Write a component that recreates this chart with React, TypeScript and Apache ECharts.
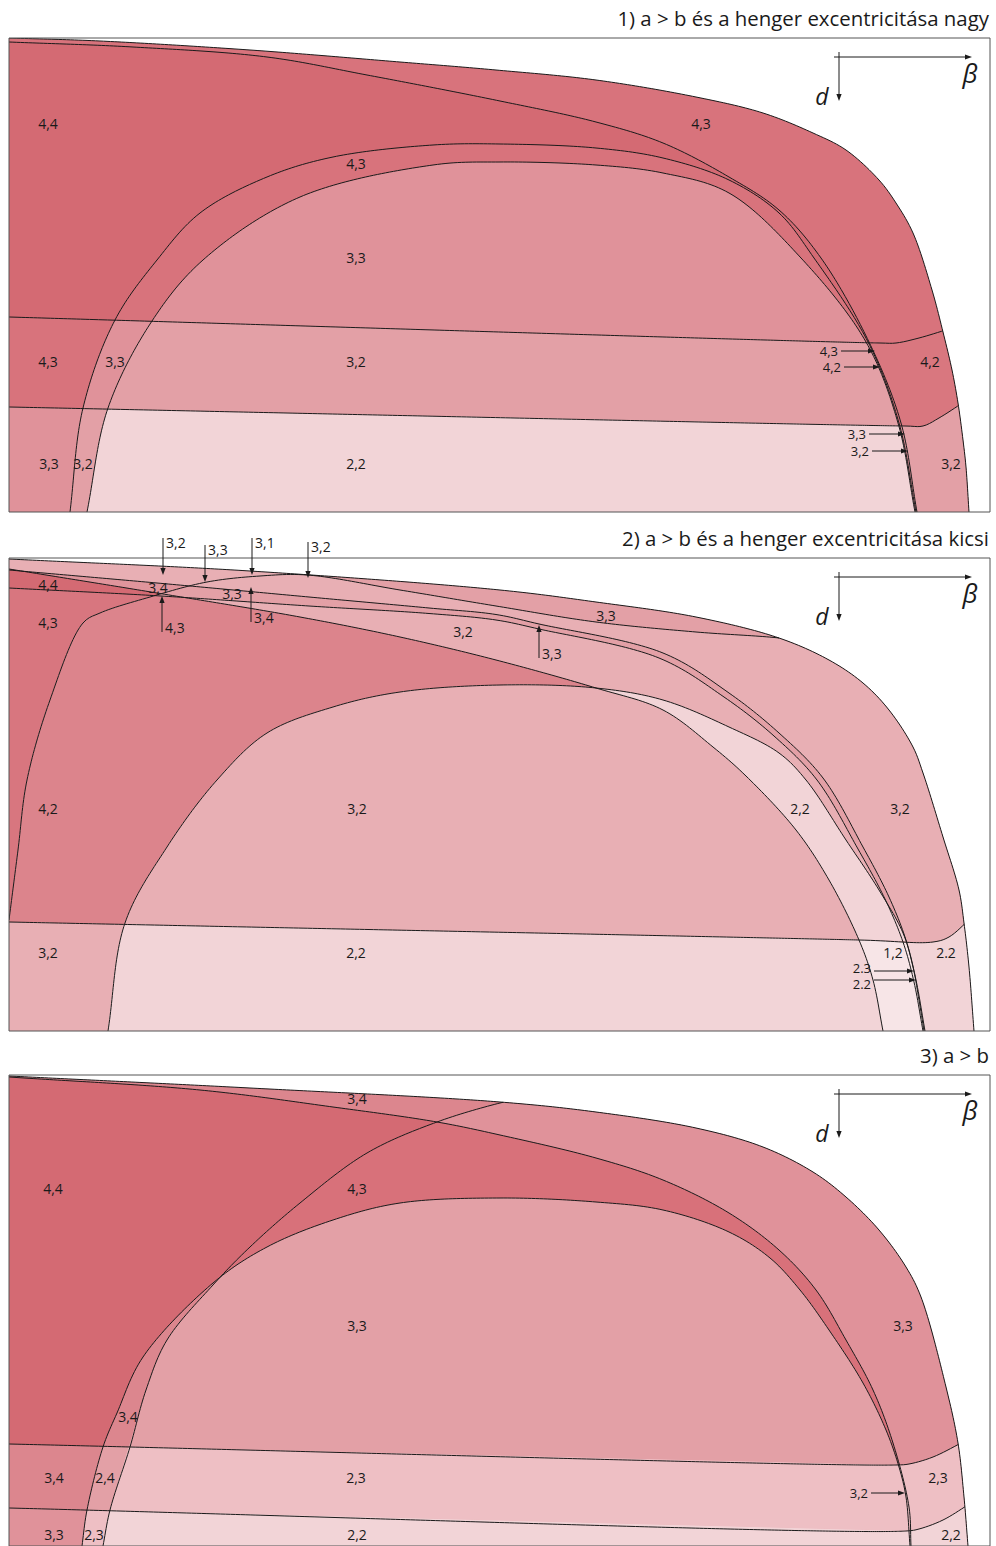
import React, { useEffect, useRef } from "react";
import * as echarts from "echarts";

type Pt = [number, number];

// ================= Panel 1 (local units: β → right 0..981, d → down 0..474)
const p1Title = "1) a > b és a henger excentricitása nagy";
const p1Outer: Pt[] = [[0,0],[91,3],[241,12],[391,24],[487,32],[587,42],[687,59],[754,75],[804,95],[837,112],[870,142],[887,165],[904,195],[923,252],[934,294],[943,332],[949,365],[954,402],[957,429],[960,474]];
const p1Upper: Pt[] = [[0,4],[124,9],[258,19],[358,37],[491,63],[587,84],[654,105],[720,139],[770,172],[812,220],[860,304],[892,385],[908,474]];
const p1EllOuter: Pt[] = [[61,474],[74,370],[106,282],[148,222],[191,175],[258,139],[324,119],[424,107],[491,106],[587,110],[654,120],[720,142],[770,175],[805,220],[859,304],[890,385],[907,474]];
const p1EllInner: Pt[] = [[78,474],[99,370],[143,283],[194,222],[291,159],[424,127],[491,124],[587,127],[654,135],[720,155],[792,220],[857,304],[889,385],[906,474]];
const p1Line1: Pt[] = [[0,279],[871,305],[887,305],[910,300],[940,291]];
const p1Line2: Pt[] = [[0,369],[896,388],[914,388],[930,380],[955,364]];
const p1Labels: [string, number, number][] = [["4,4",39,85],["4,3",692,85],["4,3",347,125],["3,3",347,219],["4,3",39,323],["3,3",106,323],["3,2",347,323],["4,2",921,323],["3,3",40,425],["3,2",74,425],["2,2",347,425],["3,2",942,425]];
const p1Pointers: [string, number, number, number, number, number][] = [["4,3",832,313,866,313,0],["4,2",835,329,871,329,0],["3,3",860,396,896,396,0],["3,2",863,413,899,413,0]];

// ================= Panel 2
const p2Title = "2) a > b és a henger excentricitása kicsi";
const p2Outer: Pt[] = [[0,1],[241,13],[491,32],[587,44],[687,59],[770,80],[820,102],[854,125],[880,152],[904,189],[914,215],[934,279],[950,332],[955,365],[960,409],[965,473]];
const p2Steep: Pt[] = [[0,362],[9,292],[18,222],[41,142],[74,65],[91,55],[141,39],[198,24],[251,18],[298,17],[391,32],[487,48],[587,64],[687,74],[770,80],[795,84]];
const p2Upper: Pt[] = [[0,12],[148,25],[300,39],[420,50],[487,56.5],[530,66],[654,95],[720,135],[770,175],[814,220],[854,289],[880,339],[897,382],[907,422],[916,473]];
const p2Middle: Pt[] = [[0,30],[152,38],[300,48],[420,55.5],[487,62],[530,71],[650,100],[715,139],[765,178],[808,222],[849,291],[876,341],[894,384],[905,424],[914,473]];
const p2Lower: Pt[] = [[0,11],[148,35],[291,59],[391,79],[487,102],[587,130],[654,152],[704,189],[737,218],[787,272],[820,322],[850,382],[864,422],[874,473]];
const p2Ell: Pt[] = [[99,473],[116,365],[158,289],[208,222],[258,175],[324,149],[391,134],[491,127],[587,130],[654,142],[720,169],[770,195],[797,222],[837,282],[870,332],[894,375],[904,409],[910,442],[915,473]];
const p2Line1: Pt[] = [[0,364],[850,382],[924,384],[940,379],[962,360]];
const p2Labels: [string, number, number][] = [["4,4",39,26],["3,4",149,29],["3,3",223,35],["3,3",597,57],["4,3",39,64],["3,2",454,73],["4,2",39,250],["3,2",348,250],["2,2",791,250],["3,2",891,250],["3,2",39,394],["2,2",347,394],["1,2",884,394],["2.2",937,394]];
const p2Pointers: [string, number, number, number, number, number][] = [["3,2",154,-20,154,17,0],["3,3",196,-13,196,24,0],["3,1",243,-20,243,17,0],["3,2",299,-16,299,20,0],["4,3",153,74,153,38,0],["3,4",242,64,242,29,0],["3,3",530,100,530,67,0],["2.3",865,413,905,413,-3],["2.2",865,422,907,422,4]];
const p2SplitX = 300; // F grazes the outer boundary here

// ================= Panel 3
const p3Title = "3) a > b";
const p3Outer: Pt[] = [[0,1],[241,13],[491,27],[587,37],[687,53],[754,72],[804,97],[837,122],[870,155],[897,192],[912,222],[937,312],[949,368],[955,422],[959,471]];
const p3Upper: Pt[] = [[0,2],[191,15],[324,32],[428,47],[491,60],[587,83],[654,105],[720,138],[770,175],[807,215],[837,265],[864,315],[884,368],[900,432],[902,471]];
const p3Arc: Pt[] = [[511,24],[491,28],[428,47],[358,78],[291,128],[241,172],[204,210],[158,265],[137,315],[121,372],[101,435],[94,471]];
const p3Ell: Pt[] = [[901,471],[897,422],[890,392],[877,355],[854,308],[820,255],[791,215],[761,183],[720,157],[654,135],[587,127],[491,123],[391,128],[324,145],[258,172],[204,208],[134,282],[108,338],[94,372],[78,435],[73,471]];
const p3Line1: Pt[] = [[0,369],[887,390],[900,389],[924,382],[956,366]];
const p3Line2: Pt[] = [[0,433],[897,456],[910,454],[934,445],[962,428]];
const p3Labels: [string, number, number][] = [["3,4",348,23],["4,4",44,113],["4,3",348,113],["3,3",348,250],["3,3",894,250],["3,4",119,341],["3,4",45,402],["2,4",96,402],["2,3",347,402],["2,3",929,402],["3,3",45,459],["2,3",85,459],["2,2",348,459],["2,2",942,459]];
const p3Pointers: [string, number, number, number, number, number][] = [["3,2",862,418,896,418,0]];

// axis glyph (β →, d ↓) in local units
const glyphH: Pt[] = [[825,19],[963,19]];
const glyphV: Pt[] = [[830,14],[830,63]];
const glyphBeta: Pt = [961,35];
const glyphD: Pt = [813,58];

// ================= palettes (styles)
const pal1: Record<string,string> = { "4,4":"#D46A73","4,3":"#D8737C","4,2":"#D9777F","3,3":"#E0929A","3,2":"#E3A0A6","2,2":"#F2D4D7" };
const pal2: Record<string,string> = { "4,4":"#D46A73","4,3":"#D8767F","4,2":"#DC848C","3,4":"#E0959C","3,3":"#E3A0A6","3,2":"#E8AFB4","2,2":"#F2D4D7","1,2":"#F7E5E7" };
const pal3: Record<string,string> = { "4,4":"#D46A73","4,3":"#D8717A","3,4":"#DC868E","3,3o":"#E0929A","3,3":"#E3A0A6","2,4":"#E3A0A6","2,3":"#EEBFC4","2,2":"#F2D4D7" };

const FONT = '"Open Sans", "DejaVu Sans", sans-serif';
const INK = "#1a1a1a";
const LABEL_FONT = `14px ${FONT}`;

// ================= geometry helpers
const dist = (a: Pt, b: Pt) => Math.hypot(b[0] - a[0], b[1] - a[1]);

function smooth(pts: Pt[]): Pt[] {
  const m = pts.length;
  if (m < 3) return pts.slice();
  const e: Pt[] = [[2*pts[0][0]-pts[1][0], 2*pts[0][1]-pts[1][1]], ...pts, [2*pts[m-1][0]-pts[m-2][0], 2*pts[m-1][1]-pts[m-2][1]]];
  const out: Pt[] = [];
  const k = (a: Pt, b: Pt) => Math.max(Math.sqrt(dist(a, b)), 1e-3);
  for (let i = 1; i < e.length - 2; i++) {
    const p0 = e[i-1], p1 = e[i], p2 = e[i+1], p3 = e[i+2];
    const t0 = 0, t1 = k(p0, p1), t2 = t1 + k(p1, p2), t3 = t2 + k(p2, p3);
    const n = Math.max(3, Math.ceil(dist(p1, p2) / 4));
    for (let s = 0; s < n; s++) {
      const t = t1 + (t2 - t1) * s / n;
      const L = (a: Pt, b: Pt, ta: number, tb: number): Pt => { const w = (t - ta) / (tb - ta); return [a[0] + (b[0]-a[0])*w, a[1] + (b[1]-a[1])*w]; };
      const A1 = L(p0,p1,t0,t1), A2 = L(p1,p2,t1,t2), A3 = L(p2,p3,t2,t3);
      const B1 = L(A1,A2,t0,t2), B2 = L(A2,A3,t1,t3);
      out.push(L(B1,B2,t1,t2));
    }
  }
  out.push(pts[m-1]);
  return out;
}

function segX(a: Pt, b: Pt, c: Pt, d: Pt): number | null {
  const rx = b[0]-a[0], ry = b[1]-a[1], sx = d[0]-c[0], sy = d[1]-c[1];
  const den = rx*sy - ry*sx;
  if (Math.abs(den) < 1e-12) return null;
  const qx = c[0]-a[0], qy = c[1]-a[1];
  const t = (qx*sy - qy*sx) / den, u = (qx*ry - qy*rx) / den;
  return t >= 0 && t <= 1 && u >= 0 && u <= 1 ? t : null;
}
function hitParam(a: Pt[], b: Pt[]): number | null {
  for (let i = 0; i < a.length - 1; i++) {
    let best = Infinity;
    for (let j = 0; j < b.length - 1; j++) {
      const r = segX(a[i], a[i+1], b[j], b[j+1]);
      if (r !== null && r < best) best = r;
    }
    if (best < Infinity) return i + best;
  }
  return null;
}
function at(a: Pt[], h: number): Pt {
  const i = Math.min(Math.max(Math.floor(h), 0), a.length - 2);
  const t = h - i;
  return [a[i][0] + (a[i+1][0]-a[i][0])*t, a[i][1] + (a[i+1][1]-a[i][1])*t];
}
function slice(a: Pt[], s: number, e: number): Pt[] {
  const out: Pt[] = [at(a, s)];
  if (s <= e) { for (let k = Math.floor(s) + 1; k < e; k++) out.push(a[k]); }
  else { for (let k = Math.ceil(s) - 1; k > e; k--) out.push(a[k]); }
  out.push(at(a, e));
  return out;
}
const under = (c: Pt[], h: number): Pt[] => [...c, [0, h]];
function band(l: Pt[], outer: Pt[], h: number): Pt[] {
  const hl = hitParam(l, outer) ?? l.length - 1;
  const ho = hitParam(outer, l) ?? outer.length - 1;
  return [...slice(l, 0, hl), ...slice(outer, ho, outer.length - 1), [0, h]];
}
function half(l: Pt[], below: boolean): Pt[] {
  const a = l[0], b = l[1];
  const m = (b[1]-a[1]) / (b[0]-a[0]);
  const y = (x: number) => a[1] + m*(x - a[0]);
  const far = below ? 5000 : -5000;
  return [[-2000, y(-2000)], [3000, y(3000)], [3000, far], [-2000, far]];
}
const rightOfX = (x: number): Pt[] => [[x, -5000], [5000, -5000], [5000, 5000], [x, 5000]];
function rightOf(c: Pt[]): Pt[] {
  const f = c[0], e = c[c.length-1];
  return [...c, [e[0], 5000], [5000, 5000], [5000, f[1]]];
}
const upTo = (l: Pt[], o: Pt[]) => slice(l, 0, hitParam(l, o) ?? l.length - 1);
const fromHit = (l: Pt[], o: Pt[]) => slice(l, hitParam(l, o) ?? 0, l.length - 1);

// convex hull (monotone chain) so that clipping regions are strictly convex
function hull(points: Pt[]): Pt[] {
  const p = points.slice().sort((a, b) => a[0] - b[0] || a[1] - b[1]);
  if (p.length < 3) return p;
  const cr = (o: Pt, a: Pt, b: Pt) => (a[0]-o[0])*(b[1]-o[1]) - (a[1]-o[1])*(b[0]-o[0]);
  const lo: Pt[] = [];
  for (const q of p) { while (lo.length >= 2 && cr(lo[lo.length-2], lo[lo.length-1], q) <= 0) lo.pop(); lo.push(q); }
  const up: Pt[] = [];
  for (let i = p.length - 1; i >= 0; i--) { const q = p[i]; while (up.length >= 2 && cr(up[up.length-2], up[up.length-1], q) <= 0) up.pop(); up.push(q); }
  lo.pop(); up.pop();
  return lo.concat(up);
}

function area(p: Pt[]) { let s = 0; for (let i = 0; i < p.length; i++) { const j = (i+1) % p.length; s += p[i][0]*p[j][1] - p[j][0]*p[i][1]; } return s / 2; }
function clip(subject: Pt[], clipPoly: Pt[]): Pt[] {
  const cl = hull(clipPoly);
  const sg = area(cl) > 0 ? 1 : -1;
  let out = subject;
  for (let i = 0; i < cl.length; i++) {
    const a = cl[i], b = cl[(i+1) % cl.length];
    if (dist(a, b) < 1e-6) continue;
    const inp = out; out = [];
    if (!inp.length) break;
    const side = (p: Pt) => sg*((b[0]-a[0])*(p[1]-a[1]) - (b[1]-a[1])*(p[0]-a[0]));
    for (let j = 0; j < inp.length; j++) {
      const cur = inp[j], prev = inp[(j + inp.length - 1) % inp.length];
      const sc = side(cur), sp = side(prev);
      const cx = (): Pt => { const w = sp / (sp - sc); return [prev[0] + (cur[0]-prev[0])*w, prev[1] + (cur[1]-prev[1])*w]; };
      if (sc >= 0) { if (sp < 0) out.push(cx()); out.push(cur); }
      else if (sp >= 0) out.push(cx());
    }
  }
  return out;
}

type Geom = { fills: [string, Pt[]][]; strokes: Pt[][] };
function compose(sets: Record<string, Pt[]>, layers: [string, string[]][], strokes: Pt[][]): Geom {
  const fills: [string, Pt[]][] = layers.map(([key, names]) => [key, names.slice(1).reduce((acc, n) => clip(acc, sets[n]), sets[names[0]])]);
  return { fills, strokes };
}

function geom1(h: number): Geom {
  const A = smooth(p1Outer), B = smooth(p1Upper), C = smooth(p1EllOuter), D = smooth(p1EllInner);
  const L1 = smooth(p1Line1), L2 = smooth(p1Line2);
  const sets = { inA: under(A, h), inB: under(B, h), inC: C, inD: D, band1: band(L1, A, h), band2: band(L2, A, h),
    ab1: half(p1Line1, false), be1: half(p1Line1, true), ab2: half(p1Line2, false), be2: half(p1Line2, true) };
  const layers: [string, string[]][] = [
    ["4,3", ["inA"]], ["4,2", ["band1"]], ["3,2", ["band2"]],
    ["4,4", ["inB","ab1"]], ["4,3", ["inB","be1","ab2"]], ["3,3", ["inB","be2"]],
    ["4,3", ["inC","ab1"]], ["3,3", ["inC","be1","ab2"]], ["3,2", ["inC","be2"]],
    ["3,3", ["inD","ab1"]], ["3,2", ["inD","be1","ab2"]], ["2,2", ["inD","be2"]],
  ];
  return compose(sets, layers, [A, B, C, D, upTo(L1, A), upTo(L2, A)]);
}

function geom2(h: number): Geom {
  const A = smooth(p2Outer), F = smooth(p2Steep), J = smooth(p2Upper), K = smooth(p2Middle), H = smooth(p2Lower), E = smooth(p2Ell);
  const L1 = smooth(p2Line1);
  let hF = F.length - 1, hA = A.length - 1;
  for (let i = F.length - 2; i >= 0; i--) {
    let found = -1, fa = -1;
    for (let j = 0; j < A.length - 1; j++) { const r = segX(F[i], F[i+1], A[j], A[j+1]); if (r !== null) { found = i + r; const r2 = segX(A[j], A[j+1], F[i], F[i+1]); fa = j + (r2 ?? 0); break; } }
    if (found >= 0 && F[i][0] > p2SplitX + 100) { hF = found; hA = fa; break; }
  }
  const inF: Pt[] = [...slice(F, 0, hF), ...slice(A, hA, A.length - 1), [0, h]];
  const sets = { inA: under(A, h), inF, inJ: under(J, h), inK: under(K, h), inH: under(H, h), inE: E, band1: band(L1, A, h),
    ab1: half(p2Line1, false), be1: half(p2Line1, true), xR: rightOfX(p2SplitX) };
  const layers: [string, string[]][] = [
    ["3,2", ["inA"]], ["3,3", ["inA","ab1","xR"]],
    ["3,4", ["inJ","ab1"]],
    ["4,4", ["inH","ab1"]], ["4,3", ["inK","ab1"]],
    ["3,2", ["inF","ab1"]], ["3,3", ["inF","inJ","ab1"]], ["3,2", ["inF","inK","ab1"]],
    ["4,2", ["inF","inK","inH","ab1"]],
    ["2,2", ["inE","ab1"]], ["3,2", ["inE","inH","ab1"]],
    ["2,2", ["band1"]], ["3,2", ["band1","inH"]], ["1,2", ["band1","inE"]], ["2,2", ["band1","inE","inH"]],
  ];
  return compose(sets, layers, [A, slice(F, 0, hF), J, K, H, E, upTo(L1, A)]);
}

function geom3(h: number): Geom {
  const A = smooth(p3Outer), B = smooth(p3Upper), P = smooth(p3Arc), Q = smooth(p3Ell);
  const L1 = smooth(p3Line1), L2 = smooth(p3Line2);
  const sets = { inA: under(A, h), inB: under(B, h), inP: rightOf(P), inQ: Q, band1: band(L1, A, h), band2: band(L2, A, h),
    ab1: half(p3Line1, false), be1: half(p3Line1, true), ab2: half(p3Line2, false), be2: half(p3Line2, true) };
  const layers: [string, string[]][] = [
    ["3,4", ["inA"]], ["4,4", ["inB","ab1"]],
    ["3,3o", ["inA","inP"]], ["4,3", ["inB","inP","ab1"]],
    ["3,4", ["band1"]], ["3,3o", ["band2"]],
    ["2,3", ["band1","inP"]], ["2,2", ["band2","inP"]],
    ["3,4", ["inQ","ab1"]], ["3,3", ["inQ","inP","ab1"]],
    ["2,4", ["inQ","be1","ab2"]], ["2,3", ["inQ","inP","be1","ab2"]],
    ["2,3", ["inQ","be2"]], ["2,2", ["inQ","inP","be2"]],
  ];
  return compose(sets, layers, [A, B, fromHit(P, A), Q, upTo(L1, A), upTo(L2, A)]);
}

const PANELS = [
  { top: 38, h: 474, title: p1Title, geom: geom1, pal: pal1, labels: p1Labels, pointers: p1Pointers },
  { top: 558, h: 473, title: p2Title, geom: geom2, pal: pal2, labels: p2Labels, pointers: p2Pointers },
  { top: 1075, h: 471, title: p3Title, geom: geom3, pal: pal3, labels: p3Labels, pointers: p3Pointers },
];

function arrowEls(a: number[], b: number[]): any[] {
  const dx = b[0] - a[0], dy = b[1] - a[1];
  const len = Math.hypot(dx, dy) || 1;
  const ux = dx / len, uy = dy / len;
  const bx = b[0] - ux * 7, by = b[1] - uy * 7;
  const px = -uy * 2.6, py = ux * 2.6;
  return [
    { type: "line", shape: { x1: a[0], y1: a[1], x2: bx, y2: by }, style: { stroke: INK, lineWidth: 1 } },
    { type: "polygon", shape: { points: [[b[0], b[1]], [bx + px, by + py], [bx - px, by - py]] }, style: { fill: INK } },
  ];
}

function buildOption() {
  const series: any[] = [];
  PANELS.forEach((p, i) => {
    const g = p.geom(p.h);
    series.push({
      type: "custom", xAxisIndex: i, yAxisIndex: i, clip: true, silent: true, data: [[0, 0]],
      renderItem: (_params: any, api: any) => {
        const c = (q: Pt) => api.coord(q);
        const children: any[] = [];
        for (const [key, poly] of g.fills) {
          if (poly.length < 3) continue;
          children.push({ type: "polygon", shape: { points: poly.map(c) }, style: { fill: p.pal[key] } });
        }
        for (const s of g.strokes) children.push({ type: "polyline", shape: { points: s.map(c) }, style: { stroke: INK, lineWidth: 1, fill: "none" } });
        return { type: "group", children };
      },
    });
    series.push({
      type: "custom", xAxisIndex: i, yAxisIndex: i, clip: false, silent: true, data: [[0, 0]],
      renderItem: (_params: any, api: any) => {
        const c = (q: Pt) => api.coord(q);
        const children: any[] = [];
        const tl = c([0, 0]), br = c([981, p.h]);
        children.push({ type: "rect", shape: { x: tl[0], y: tl[1], width: br[0] - tl[0], height: br[1] - tl[1] }, style: { fill: "none", stroke: "#555", lineWidth: 1 } });
        for (const [t, x, y] of p.labels) {
          const q = c([x, y]);
          children.push({ type: "text", x: q[0], y: q[1], style: { text: t, fill: INK, font: LABEL_FONT, align: "center", verticalAlign: "middle" } });
        }
        for (const [t, x1, y1, x2, y2, dy] of p.pointers) {
          const a = c([x1, y1]), b = c([x2, y2]);
          children.push(...arrowEls(a, b));
          if (x2 > x1) children.push({ type: "text", x: a[0] - 3, y: a[1] + dy, style: { text: t, fill: INK, font: `13px ${FONT}`, align: "right", verticalAlign: "middle" } });
          else if (y2 > y1) children.push({ type: "text", x: a[0] + 3, y: a[1] + 4, style: { text: t, fill: INK, font: LABEL_FONT, align: "left", verticalAlign: "middle" } });
          else children.push({ type: "text", x: a[0] + 3, y: a[1] - 5, style: { text: t, fill: INK, font: LABEL_FONT, align: "left", verticalAlign: "middle" } });
        }
        children.push(...arrowEls(c(glyphH[0]), c(glyphH[1])));
        children.push(...arrowEls(c(glyphV[0]), c(glyphV[1])));
        const qb = c(glyphBeta), qd = c(glyphD);
        children.push({ type: "text", x: qb[0], y: qb[1], style: { text: "β", fill: INK, font: `italic 26px ${FONT}`, align: "center", verticalAlign: "middle" } });
        children.push({ type: "text", x: qd[0], y: qd[1], style: { text: "d", fill: INK, font: `italic 23px ${FONT}`, align: "center", verticalAlign: "middle" } });
        const qt = c([980, -20]);
        children.push({ type: "text", x: qt[0], y: qt[1], style: { text: p.title, fill: INK, font: `20.4px ${FONT}`, align: "right", verticalAlign: "middle" } });
        return { type: "group", children };
      },
    });
  });
  return {
    animation: false,
    grid: PANELS.map((p) => ({ left: 9, top: p.top, width: 981, height: p.h, show: false })),
    xAxis: PANELS.map((_p, i) => ({ type: "value", gridIndex: i, min: 0, max: 981, show: false })),
    yAxis: PANELS.map((p, i) => ({ type: "value", gridIndex: i, min: 0, max: p.h, inverse: true, show: false })),
    series,
  };
}

export default function App() {
  const ref = useRef<HTMLDivElement>(null);
  useEffect(() => {
    const chart = echarts.init(ref.current as HTMLDivElement, null, { renderer: "svg" });
    chart.setOption(buildOption() as any);
    return () => chart.dispose();
  }, []);
  return <div ref={ref} style={{ position: "absolute", left: 0, top: 0, width: 996, height: 1546, background: "#fff" }} />;
}
